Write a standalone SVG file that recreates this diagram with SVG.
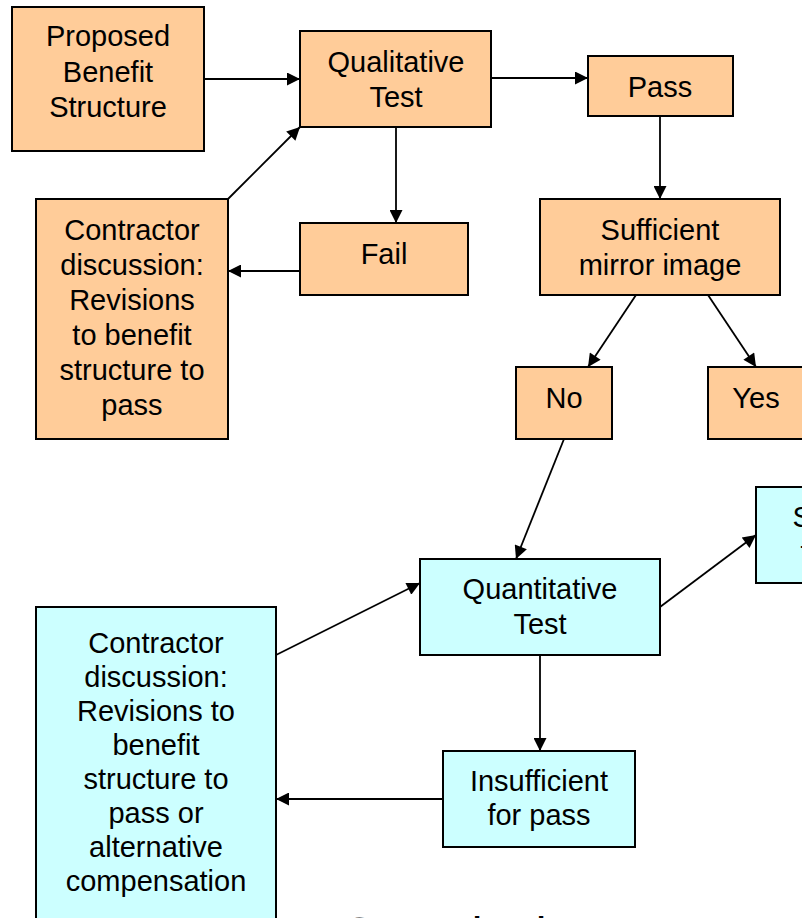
<svg xmlns="http://www.w3.org/2000/svg" width="802" height="918" viewBox="0 0 802 918">
<defs>
<style>
.o{fill:#FFCC99;stroke:#000;stroke-width:2}
.c{fill:#CCFFFF;stroke:#000;stroke-width:2}
text{font-family:"Liberation Sans",Arial,sans-serif;font-size:29px;fill:#000;text-anchor:middle}
.ln{stroke:#000;stroke-width:1.8;fill:none;marker-end:url(#ah)}
</style>
<marker id="ah" viewBox="0 0 10 10" refX="10" refY="5" markerWidth="15" markerHeight="13" markerUnits="userSpaceOnUse" orient="auto">
<path d="M0,0 L10,5 L0,10 z" fill="#000"/>
</marker>
</defs>
<rect width="802" height="918" fill="#fff"/>
<g id="connectors">
<line class="ln" x1="204" y1="79" x2="300" y2="79"/>
<line class="ln" x1="228" y1="199" x2="300" y2="127"/>
<line class="ln" x1="491" y1="78" x2="588" y2="78"/>
<line class="ln" x1="396" y1="127" x2="396" y2="223"/>
<line class="ln" x1="300" y1="271" x2="228" y2="271"/>
<line class="ln" x1="660" y1="116" x2="660" y2="199"/>
<line class="ln" x1="636" y1="295" x2="588" y2="367"/>
<line class="ln" x1="708" y1="295" x2="756" y2="367"/>
<line class="ln" x1="564" y1="439" x2="516" y2="559"/>
<line class="ln" x1="276" y1="655" x2="420" y2="583"/>
<line class="ln" x1="660" y1="607" x2="756" y2="535"/>
<line class="ln" x1="540" y1="655" x2="540" y2="751"/>
<line class="ln" x1="443" y1="799" x2="276" y2="799"/>
</g>
<g id="proposed"><rect class="o" x="12" y="7" width="192" height="144"/>
<text x="108" y="46">Proposed</text><text x="108" y="81.5">Benefit</text><text x="108" y="117">Structure</text></g>
<g id="qualitative"><rect class="o" x="300" y="31" width="191" height="96"/>
<text x="396" y="71.5">Qualitative</text><text x="396" y="106.5">Test</text></g>
<g id="pass"><rect class="o" x="588" y="56" width="145" height="60"/>
<text x="660" y="96.5">Pass</text></g>
<g id="mirror"><rect class="o" x="540" y="199" width="240" height="96"/>
<text x="660" y="239.5">Sufficient</text><text x="660" y="274.5">mirror image</text></g>
<g id="fail"><rect class="o" x="300" y="223" width="168" height="72"/>
<text x="384" y="263.5">Fail</text></g>
<g id="contractor1"><rect class="o" x="36" y="199" width="192" height="240"/>
<text x="132" y="240">Contractor</text><text x="132" y="275">discussion:</text><text x="132" y="310">Revisions</text><text x="132" y="345">to benefit</text><text x="132" y="380">structure to</text><text x="132" y="415">pass</text></g>
<g id="no"><rect class="o" x="516" y="367" width="96" height="72"/>
<text x="564" y="408">No</text></g>
<g id="yes"><rect class="o" x="708" y="367" width="96" height="72"/>
<text x="756" y="408">Yes</text></g>
<g id="quantitative"><rect class="c" x="420" y="559" width="240" height="96"/>
<text x="540" y="599">Quantitative</text><text x="540" y="634">Test</text></g>
<g id="sufficient"><rect class="c" x="756" y="487" width="192" height="96"/>
<text x="852" y="527">Sufficient</text><text x="852" y="562">for pass</text></g>
<g id="insufficient"><rect class="c" x="443" y="751" width="192" height="96"/>
<text x="539" y="791">Insufficient</text><text x="539" y="825">for pass</text></g>
<g id="contractor2"><rect class="c" x="36" y="607" width="240" height="330"/>
<text x="156" y="653">Contractor</text><text x="156" y="687">discussion:</text><text x="156" y="721">Revisions to</text><text x="156" y="755">benefit</text><text x="156" y="789">structure to</text><text x="156" y="823">pass or</text><text x="156" y="857">alternative</text><text x="156" y="891">compensation</text></g>
<text x="341" y="951" style="font-size:48px;text-anchor:start">Quantitative Test</text>
</svg>
